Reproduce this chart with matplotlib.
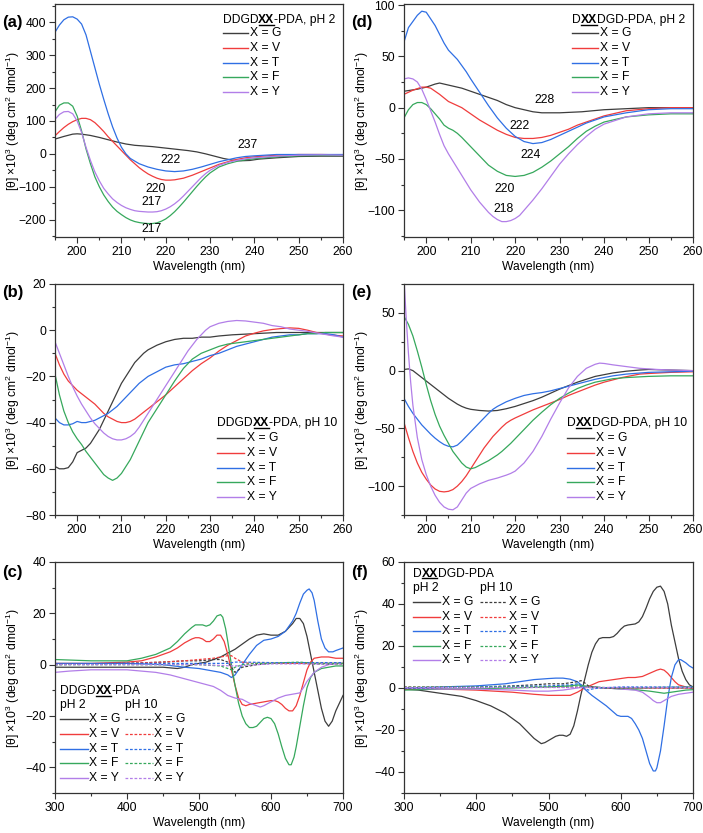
import numpy as np
import matplotlib
matplotlib.use("Agg")
import matplotlib.pyplot as plt
from matplotlib.ticker import MultipleLocator
from matplotlib.lines import Line2D

plt.rcParams['font.family'] = ['Liberation Sans', 'DejaVu Sans']
plt.rcParams['mathtext.fontset'] = 'custom'
plt.rcParams['mathtext.rm'] = 'Liberation Sans'
plt.rcParams['font.size'] = 8.7

LABELS = ['X = G', 'X = V', 'X = T', 'X = F', 'X = Y']
COLORS = ['#3d3d3d', '#f03c3c', '#2f6fe4', '#36a85c', '#b27ee8']

# ---- (a) DDGDXX-PDA, pH 2 ----
A_G = [(195, 45), (197, 53), (199, 60), (200, 61), (201, 60), (203, 56), (205, 50), (207, 43), (209, 36),
       (211, 30), (213, 26), (215, 24), (217, 22), (219, 19), (221, 16), (223, 13), (225, 10), (227, 6),
       (229, 0), (231, -7), (233, -14), (235, -19), (237, -21), (239, -20), (241, -16), (245, -12),
       (250, -8), (255, -7), (260, -7)]
A_V = [(195, 55), (196, 68), (197, 80), (198, 90), (199, 98), (200, 104), (201, 108), (202, 108), (203, 104),
       (204, 95), (205, 82), (206, 68), (207, 52), (208, 38), (209, 24), (210, 10), (211, -4), (212, -18),
       (213, -30), (214, -42), (215, -52), (216, -61), (217, -68), (218, -74), (219, -78), (220, -80),
       (221, -80), (222, -79), (224, -74), (226, -65), (228, -54), (230, -43), (232, -32), (234, -24),
       (236, -17), (238, -12), (240, -9), (245, -4), (250, -2), (255, -2), (260, -3)]
A_T = [(195, 370), (196, 392), (197, 408), (198, 416), (199, 417), (200, 410), (201, 395), (202, 362),
       (203, 312), (204, 262), (205, 212), (206, 166), (207, 122), (208, 82), (209, 48), (210, 20), (211, 0),
       (212, -14), (214, -30), (216, -40), (218, -47), (220, -52), (222, -54), (224, -52), (226, -47),
       (228, -40), (230, -32), (232, -24), (234, -18), (236, -12), (238, -8), (240, -6), (245, -2),
       (250, -2), (260, -2)]
A_F = [(195, 128), (196, 148), (197, 155), (198, 155), (199, 145), (200, 115), (201, 70), (202, 15),
       (203, -30), (204, -70), (205, -100), (206, -125), (207, -145), (208, -162), (209, -175), (210, -185),
       (211, -194), (212, -201), (213, -206), (214, -209), (215, -211), (216, -212), (217, -212),
       (218, -210), (219, -205), (220, -198), (221, -188), (222, -176), (223, -162), (224, -147),
       (225, -131), (226, -115), (227, -99), (228, -84), (229, -70), (230, -58), (232, -40), (234, -30),
       (236, -23), (238, -18), (240, -15), (245, -9), (250, -6), (255, -5), (260, -5)]
A_Y = [(195, 105), (196, 120), (197, 128), (198, 129), (199, 122), (200, 100), (201, 65), (202, 20),
       (203, -20), (204, -55), (205, -82), (206, -105), (207, -122), (208, -137), (209, -148), (210, -157),
       (211, -164), (212, -169), (213, -173), (214, -175), (215, -176), (216, -177), (217, -177),
       (218, -176), (219, -173), (220, -168), (221, -161), (222, -152), (223, -141), (224, -128),
       (225, -114), (226, -100), (227, -86), (228, -72), (229, -60), (230, -50), (232, -35), (234, -26),
       (236, -20), (238, -15), (240, -12), (245, -7), (250, -4), (255, -3), (260, -4)]
A_NOTES = [('222', 221, -18), ('220', 217.8, -107), ('217', 216.7, -145), ('217', 216.7, -229),
           ('237', 238.5, 27)]

# ---- (b) DDGDXX-PDA, pH 10 ----
B_G = [(195, -59), (196, -60), (197, -60), (198, -59.5), (199, -57), (200, -53), (201, -52), (202, -51),
       (203, -49), (204, -46), (205, -43), (206, -39), (207, -35), (208, -31), (209, -27), (210, -23),
       (211, -20), (212, -17), (213, -14), (214, -12), (215, -10), (216, -8.5), (217, -7.5), (218, -6.5),
       (220, -5), (222, -4), (224, -3.5), (226, -3.5), (228, -3), (230, -3), (232, -2.5), (235, -2),
       (240, -1.5), (245, -1), (250, -1), (255, -1), (260, -1)]
B_V = [(195, -10), (196, -15), (197, -19), (198, -22), (199, -24), (200, -26), (201, -27.5), (202, -29),
       (203, -30.5), (204, -32), (205, -34), (206, -36), (207, -37.5), (208, -38.5), (209, -39.5),
       (210, -40), (211, -40), (212, -39.5), (213, -38.5), (214, -37), (215, -35.5), (216, -34),
       (217, -32.5), (218, -31), (219, -29.5), (220, -28), (222, -24.5), (224, -21), (226, -17.5),
       (228, -14.5), (230, -12), (232, -9), (234, -6.5), (236, -4.5), (238, -2.5), (240, -1.3),
       (242, -0.3), (244, 0.3), (246, 0.7), (248, 1), (250, 0.8), (252, 0), (254, -1), (257, -2),
       (260, -2.5)]
B_T = [(195, -38), (196, -40), (197, -41), (198, -41), (199, -40.5), (200, -39.5), (201, -40), (202, -40),
       (203, -39.5), (204, -39), (205, -38), (206, -37), (207, -36), (208, -34.5), (209, -33), (210, -31),
       (211, -29), (212, -27), (213, -25), (214, -23), (215, -21.5), (216, -20), (217, -19), (218, -18),
       (219, -17), (220, -16), (222, -15), (224, -14.5), (226, -13.5), (228, -12.5), (230, -11),
       (232, -10), (234, -8.5), (236, -7), (238, -6), (240, -5), (242, -4), (244, -3), (246, -2.5),
       (248, -2), (250, -2), (252, -1.5), (256, -1.5), (258, -2), (260, -3)]
B_F = [(195, -19), (196, -28), (197, -35), (198, -40), (199, -44), (200, -47), (201, -49.5), (202, -52.5),
       (203, -55), (204, -57.5), (205, -60), (206, -62.5), (207, -64), (208, -65), (209, -64), (210, -62),
       (211, -59), (212, -56), (213, -52), (214, -48), (215, -44), (216, -40), (217, -37), (218, -34),
       (219, -31), (220, -28), (221, -25), (222, -22), (224, -16.5), (226, -12.5), (228, -10),
       (230, -8.5), (232, -7), (234, -6), (236, -5.5), (238, -5), (240, -4.5), (242, -4), (244, -3.5),
       (246, -3), (248, -2.5), (250, -2), (252, -1.5), (254, -1.5), (256, -1), (260, -1)]
B_Y = [(195, -5), (196, -10), (197, -15), (198, -20), (199, -24.5), (200, -28.5), (201, -32), (202, -35),
       (203, -38), (204, -40.5), (205, -42.5), (206, -44.5), (207, -46), (208, -47), (209, -47.5),
       (210, -47.5), (211, -47), (212, -46), (213, -44.5), (214, -42), (215, -39), (216, -36), (217, -33),
       (218, -30), (219, -27), (220, -24), (221, -21), (222, -18), (223, -15), (224, -12), (225, -9),
       (226, -6.5), (227, -4), (228, -2), (229, 0), (230, 1.5), (232, 3), (234, 3.8), (236, 4.2),
       (238, 4), (240, 3.5), (242, 3), (244, 2), (246, 1.5), (248, 0.5), (250, 0), (252, -0.5),
       (255, -1.5), (258, -2.5), (260, -3)]

# ---- (d) DXXDGD-PDA, pH 2 ----
D_G = [(195, 16), (198, 18), (200, 20), (202, 23), (203, 24), (204, 23), (206, 21), (208, 19), (210, 16),
       (212, 13), (214, 10), (216, 7), (218, 3), (220, 0), (222, -2), (224, -4), (226, -5), (228, -5),
       (230, -5), (235, -4), (240, -2), (245, -1), (250, 0), (260, 0)]
D_V = [(195, 13), (197, 17), (199, 20), (200, 20), (201, 19), (203, 13), (205, 6), (206, 4), (208, 0),
       (210, -6), (212, -12), (214, -17), (216, -22), (218, -26), (220, -29), (222, -30), (224, -30),
       (226, -29), (228, -27), (230, -24), (232, -21), (234, -17), (236, -14), (238, -11), (240, -8),
       (245, -3), (250, -1), (255, 0), (260, 0)]
D_T = [(195, 64), (196, 78), (197, 84), (198, 90), (199, 94), (200, 93), (202, 80), (204, 63), (205, 56),
       (207, 47), (209, 35), (210, 28), (212, 15), (214, 2), (216, -10), (218, -20), (220, -28),
       (222, -33), (224, -35), (226, -34), (228, -31), (230, -27), (232, -23), (234, -19), (236, -15),
       (238, -12), (240, -9), (245, -5), (250, -2), (255, -1), (260, -1)]
D_F = [(195, -10), (196, -2), (197, 3), (198, 5), (199, 5), (200, 3), (201, -1), (202, -6), (203, -11),
       (204, -17), (205, -20), (206, -22), (207, -25), (208, -29), (210, -38), (212, -47), (214, -56),
       (216, -62), (218, -66), (220, -67), (222, -66), (224, -63), (226, -58), (228, -52), (230, -45),
       (232, -38), (234, -30), (236, -23), (238, -18), (240, -14), (245, -9), (250, -7), (255, -6),
       (260, -6)]
D_Y = [(195, 28), (196, 29), (197, 28), (198, 25), (199, 18), (200, 8), (201, -3), (202, -14), (203, -26),
       (204, -37), (205, -45), (206, -52), (207, -59), (208, -66), (209, -73), (210, -80), (211, -86),
       (212, -92), (213, -97), (214, -102), (215, -106), (216, -109), (217, -111), (218, -111),
       (219, -110), (220, -108), (221, -105), (222, -100), (224, -90), (226, -79), (228, -67),
       (230, -55), (232, -45), (234, -36), (236, -28), (238, -21), (240, -16), (245, -9), (250, -6),
       (255, -5), (260, -5)]
D_NOTES = [('228', 226.7, 7.5), ('222', 220.9, -18), ('224', 223.5, -46), ('220', 217.6, -79),
           ('218', 217.3, -99)]

# ---- (e) DXXDGD-PDA, pH 10 ----
E_G = [(195, 1), (196, 1.5), (197, 0), (198, -3), (199, -6), (200, -9), (201, -12), (202, -15), (203, -18),
       (204, -21), (205, -24), (206, -26.5), (207, -29), (208, -31), (209, -32.5), (210, -33.5),
       (212, -34.5), (214, -35), (216, -34.5), (218, -33), (220, -31), (222, -28.5), (224, -26),
       (226, -23), (228, -19.5), (230, -16), (232, -13), (234, -10), (236, -7.5), (238, -5), (240, -3.5),
       (242, -2), (245, -0.5), (248, 0.5), (250, 1), (255, 0.5), (260, 0)]
E_V = [(195, -45), (196, -58), (197, -70), (198, -80), (199, -88), (200, -94), (201, -99), (202, -102.5),
       (203, -104.5), (204, -105), (205, -104.5), (206, -103), (207, -100), (208, -96), (209, -91),
       (210, -85), (211, -79), (212, -73), (213, -67), (214, -62), (215, -57), (216, -53), (217, -49),
       (218, -45.5), (219, -43), (220, -41), (222, -37.5), (224, -34), (226, -31), (228, -28), (230, -25),
       (232, -21.5), (234, -18.5), (236, -15.5), (238, -12.5), (240, -10), (242, -8), (244, -6),
       (246, -4.5), (248, -3), (250, -2.5), (255, -1.5), (260, -1)]
E_T = [(195, -24), (196, -31), (197, -37), (198, -42), (199, -47), (200, -51), (201, -55), (202, -58.5),
       (203, -61.5), (204, -64), (205, -65.5), (206, -66), (207, -64.5), (208, -61), (209, -57),
       (210, -53), (211, -49), (212, -45), (213, -41), (214, -37), (215, -33.5), (216, -31), (217, -29),
       (218, -27), (219, -25.5), (220, -24), (222, -21.5), (224, -20), (226, -19), (228, -17.5),
       (230, -15.5), (232, -13.5), (234, -11.5), (236, -9.5), (238, -7.5), (240, -6), (242, -4.5),
       (245, -3), (250, -1.5), (255, -1), (260, -0.5)]
E_F = [(195, 47), (196, 40), (197, 30), (198, 17), (199, 3), (200, -12), (201, -26), (202, -38), (203, -48),
       (204, -56), (205, -63), (206, -70), (207, -75), (208, -80), (209, -83.5), (210, -85), (211, -84),
       (212, -82), (213, -80), (214, -78), (215, -75.5), (216, -73), (217, -70), (218, -66.5), (219, -63),
       (220, -59), (222, -51), (224, -43), (226, -36), (228, -29.5), (230, -24), (232, -19.5),
       (234, -15.5), (236, -12.5), (238, -10), (240, -8.5), (242, -7), (245, -6), (250, -5), (255, -4.5),
       (260, -4.5)]
E_Y = [(195, 80), (195.5, 45), (196, 15), (196.5, -10), (197, -30), (198, -58), (199, -77), (200, -90),
       (201, -100), (202, -108), (203, -114), (204, -118), (205, -120), (206, -120.5), (207, -118),
       (208, -112), (209, -106), (210, -102), (211, -100), (212, -98), (213, -96.5), (214, -95),
       (216, -93), (218, -90.5), (219, -89), (220, -87), (222, -80), (224, -70), (226, -57), (228, -42),
       (230, -28), (232, -15), (234, -5), (236, 2), (238, 5.5), (239, 6.5), (240, 6.2), (242, 5),
       (244, 4), (246, 3), (248, 2), (250, 1.5), (252, 1), (255, 0.5), (260, 0)]

# ---- (c) DDGDXX-PDA, visible range, pH 2 (solid) ----
C_G = [(300, -1), (350, -1), (400, -1), (450, -1), (470, -1.5), (480, -1), (490, 0), (500, 0.5), (510, 1),
       (520, 2), (530, 3), (540, 4.5), (550, 6), (560, 8), (570, 10), (580, 11.5), (590, 12), (600, 11.5),
       (610, 11.5), (620, 13), (630, 16), (635, 18), (640, 18), (645, 16), (650, 11), (655, 4), (660, -3),
       (665, -10), (670, -17), (675, -22), (680, -24), (685, -22), (690, -18), (695, -15), (700, -12)]
C_V = [(300, 0.5), (350, 0.5), (400, 1), (420, 1.5), (440, 3), (460, 5), (470, 6.5), (480, 8.5), (490, 10),
       (495, 10.5), (500, 10.5), (505, 10), (510, 9), (515, 9), (520, 10), (525, 11.5), (530, 11.5),
       (535, 9), (540, 4), (545, -2), (550, -8), (555, -13), (560, -15.5), (565, -16), (570, -15.5),
       (580, -15), (590, -14.5), (600, -14), (605, -14), (610, -14.5), (615, -15.5), (620, -17),
       (625, -18), (630, -18), (635, -16), (640, -12), (645, -7), (650, -2), (655, 1), (660, 2.5),
       (670, 3), (680, 3), (690, 2.5), (700, 2.5)]
C_T = [(300, 0.5), (350, 0.5), (400, 0.5), (450, 0), (480, -1), (500, -1.5), (510, -2), (520, -2.5),
       (530, -3), (540, -4), (545, -5), (550, -4), (555, -2), (560, 0), (570, 4), (580, 7.5), (590, 9.5),
       (600, 10), (610, 11), (620, 13), (630, 17), (635, 20), (640, 24), (645, 27.5), (650, 29),
       (653, 29.5), (657, 28), (660, 25), (665, 17), (670, 10), (675, 6.5), (680, 5), (686, 5),
       (690, 5.5), (700, 6.5)]
C_F = [(300, 2), (350, 1.5), (400, 1.5), (420, 2.5), (440, 4), (460, 6.5), (470, 9), (480, 12), (490, 14.5),
       (495, 15.5), (500, 15.5), (505, 15.5), (510, 15), (515, 15.5), (520, 17), (525, 19), (530, 19.5),
       (533, 18.5), (537, 14), (540, 9), (545, 0), (550, -8), (555, -15), (560, -20), (565, -23),
       (570, -24.5), (575, -24.5), (580, -24), (585, -22.5), (590, -21), (595, -20.5), (600, -21),
       (605, -23), (610, -27), (615, -32), (620, -36.5), (625, -39), (628, -39), (632, -36), (635, -32),
       (640, -24), (645, -16), (650, -9), (655, -5), (660, -3), (670, -1.5), (680, -1), (690, -0.5),
       (700, -0.5)]
C_Y = [(300, -3), (320, -2.5), (350, -2), (400, -2), (420, -2.5), (440, -3), (460, -4), (480, -5.5),
       (500, -7), (520, -8.5), (530, -10), (540, -12), (550, -13), (560, -13.5), (570, -15), (580, -16),
       (585, -16.5), (590, -16), (600, -14.5), (610, -13), (620, -12), (630, -11.5), (640, -11),
       (645, -9), (650, -6.5), (660, -3), (670, -1), (680, 0), (690, 0.5), (700, 0.5)]
# pH 10 (dashed)
C_G10 = [(300, 0), (400, 0.5), (450, 1), (480, 1.5), (500, 1.5), (520, 2), (530, 2), (540, 1), (545, -1),
         (550, -3), (555, -2), (560, -1), (570, -0.5), (580, 0), (600, 0.5), (640, 0.5), (660, 0.3),
         (700, 0.3)]
C_V10 = [(300, 0.3), (400, 0.5), (450, 1), (480, 1.5), (500, 2), (520, 2.5), (530, 3), (540, 3.5),
         (545, 3.5), (550, 2.5), (560, 1), (570, 0.5), (600, 0.5), (650, 0.5), (700, 0.5)]
C_T10 = [(300, 0.3), (400, 0.5), (500, 0.5), (540, 0.5), (550, 1), (560, 1), (600, 0.8), (650, 0.8),
         (700, 0.8)]
C_F10 = [(300, 0), (400, 0), (500, 0), (530, -0.5), (540, -1.5), (545, -2), (550, -1), (560, 0), (580, 0.5),
         (600, 0.5), (620, 0.8), (640, 1), (660, 0.5), (700, 0.5)]
C_Y10 = [(300, 0), (400, 0), (500, 0), (550, -0.5), (600, 0.3), (650, 0.3), (700, 0.3)]

# ---- (f) DXXDGD-PDA, visible range, pH 2 (solid) ----
F_G = [(300, -0.5), (320, -1), (350, -2.5), (380, -4), (400, -6), (420, -8.5), (440, -12), (460, -17),
       (470, -20.5), (480, -24), (490, -26.5), (495, -26), (500, -25), (510, -23), (515, -22.5),
       (520, -22.5), (525, -23), (530, -22), (535, -18), (540, -11), (545, -3), (550, 4), (555, 11),
       (560, 17), (565, 21), (570, 23.5), (575, 24), (585, 24), (590, 24.5), (595, 26), (600, 28),
       (605, 29.5), (610, 30), (620, 30.5), (625, 31.5), (630, 34), (635, 38), (640, 42.5), (645, 46),
       (650, 48), (655, 48.5), (660, 46), (665, 40), (670, 30), (675, 22), (680, 14), (685, 8), (690, 4),
       (695, 1.5), (700, 0.5)]
F_V = [(300, -0.5), (350, -0.5), (400, -1), (450, -2), (480, -3), (500, -3.5), (530, -3.5), (540, -2),
       (550, 0), (560, 1.5), (570, 3), (580, 3.5), (590, 4), (600, 4.5), (610, 5), (620, 5), (630, 5.5),
       (640, 7), (650, 8.5), (655, 9), (660, 8.5), (665, 7), (670, 5), (675, 3), (680, 1.5), (690, 0.5),
       (700, 0)]
F_T = [(300, 0), (350, 0.5), (400, 1), (420, 1.5), (440, 2), (460, 3), (480, 4), (500, 4.5), (510, 4.7),
       (520, 4.7), (530, 4.2), (540, 3), (545, 1.5), (550, -0.5), (555, -2), (560, -3.5), (570, -6),
       (580, -8.5), (590, -11.5), (595, -13), (600, -13.5), (610, -13.5), (615, -14.5), (620, -17),
       (625, -20), (630, -24), (635, -30), (640, -36), (645, -39.5), (648, -39.5), (650, -38), (655, -30),
       (660, -18), (665, -5), (670, 5), (675, 11), (680, 13.5), (683, 13.5), (690, 12), (695, 10.5),
       (700, 9.5)]
F_F = [(300, -1), (350, -0.5), (400, -0.3), (450, 0), (500, 0.5), (530, 1), (540, 1.5), (550, 1), (560, 0.5),
       (580, 0), (600, -0.5), (620, -0.8), (640, -1.5), (650, -2), (660, -2.5), (670, -2), (680, -1.5),
       (690, -1), (700, -0.8)]
F_Y = [(300, 0), (350, -0.5), (400, -0.5), (450, -1), (480, -1.5), (500, -1.5), (520, -1), (540, 0),
       (550, 0.5), (560, 0.5), (580, 0), (600, -0.5), (620, -1), (630, -2), (640, -4.5), (645, -6),
       (650, -7), (655, -7), (660, -6), (670, -4), (680, -3), (690, -2.5), (700, -2)]
# pH 10 (dashed)
F_G10 = [(300, 0), (400, 0.5), (450, 1), (480, 1.5), (500, 2), (520, 2), (530, 2.5), (540, 3), (545, 3.5),
         (550, 2.5), (555, 1), (560, 0.5), (580, 0), (700, 0)]
F_V10 = [(300, 0.5), (400, 0.3), (500, 0.3), (550, 0.3), (600, 0), (700, 0)]
F_T10 = [(300, 0), (400, 0.5), (500, 1), (530, 1.5), (540, 2), (545, 1.5), (550, 0), (555, -1), (560, -0.5),
         (570, 0), (600, 0.5), (700, 0.5)]
F_F10 = [(300, 0.5), (400, 0.5), (500, 0.5), (540, 1), (550, 0.5), (600, 0), (700, 0.5)]
F_Y10 = [(300, 0.5), (400, 0.5), (500, 0.5), (550, 0.5), (600, 0.5), (700, 0.5)]

DASH = (0, (2.2, 1.4))
YLABEL = r'[θ] ×10$^3$ (deg cm$^2$ dmol$^{-1}$)'

fig = plt.figure(figsize=(7.03, 8.33), dpi=100)
W, H = 703, 833


def make_ax(px_left, px_top, px_w=288, px_h=232):
    return fig.add_axes([px_left / W, 1 - (px_top + px_h) / H, px_w / W, px_h / H])


def style(ax, xlim, ylim, xmaj, xmin, ymaj, ymin):
    ax.set_xlim(*xlim)
    ax.set_ylim(*ylim)
    ax.xaxis.set_major_locator(MultipleLocator(xmaj))
    ax.xaxis.set_minor_locator(MultipleLocator(xmin))
    ax.yaxis.set_major_locator(MultipleLocator(ymaj))
    ax.yaxis.set_minor_locator(MultipleLocator(ymin))
    ax.tick_params(which='major', direction='out', length=4, width=0.8, color='#333333', pad=2.5)
    ax.tick_params(which='minor', direction='out', length=2.2, width=0.8, color='#333333')
    for s in ax.spines.values():
        s.set_linewidth(0.9)
        s.set_color('#333333')
    ax.set_xlabel('Wavelength (nm)')
    ax.set_ylabel(YLABEL)
    ax.xaxis.set_label_coords(0.5, -0.105)
    ax.yaxis.set_label_coords(-0.115, 0.5)


def draw(ax, curves, ls='-', lw=0.9):
    for pts, c in zip(curves, COLORS):
        x, y = np.array(pts, dtype=float).T
        ax.plot(x, y, color=c, lw=lw, ls=ls)


underlines = []


def rich_title(ax, x, y, before, after):
    t0 = ax.text(x, y, before, transform=ax.transAxes, va='center', ha='left')
    t1 = ax.annotate('XX', xy=(1, 0), xycoords=t0, va='bottom', ha='left', fontweight='bold')
    ax.annotate(after, xy=(1, 0), xycoords=t1, va='bottom', ha='left')
    underlines.append(t1)


def legend_rows(ax, x0, x1, xt, rows, ls='-', lw=1.0):
    for yy, c, lab in zip(rows, COLORS, LABELS):
        ax.plot([x0, x1], [yy, yy], transform=ax.transAxes, color=c, lw=lw, ls=ls, clip_on=False)
        ax.text(xt, yy, lab, transform=ax.transAxes, va='center', ha='left')


# (a)
ax = make_ax(55, 4, px_h=233)
draw(ax, [A_G, A_V, A_T, A_F, A_Y])
style(ax, (195, 260), (-253, 456), 10, 5, 100, 50)
for s, x, y in A_NOTES:
    ax.text(x, y, s, ha='center', va='center')
rich_title(ax, 0.582, 0.931, 'DDGD', '-PDA, pH 2')
legend_rows(ax, 0.582, 0.671, 0.677, [0.874, 0.81, 0.746, 0.686, 0.621])

# (d)
ax = make_ax(404, 4, px_w=289, px_h=233)
draw(ax, [D_G, D_V, D_T, D_F, D_Y])
style(ax, (195, 260), (-126, 101), 10, 5, 50, 25)
for s, x, y in D_NOTES:
    ax.text(x, y, s, ha='center', va='center')
rich_title(ax, 0.582, 0.931, 'D', 'DGD-PDA, pH 2')
legend_rows(ax, 0.582, 0.671, 0.677, [0.874, 0.81, 0.746, 0.686, 0.621])

# (b)
ax = make_ax(55, 284, px_h=231)
draw(ax, [B_G, B_V, B_T, B_F, B_Y])
style(ax, (195, 260), (-80, 20), 10, 5, 20, 10)
rich_title(ax, 0.564, 0.397, 'DDGD', '-PDA, pH 10')
legend_rows(ax, 0.564, 0.657, 0.666, [0.335, 0.270, 0.205, 0.143, 0.078])

# (e)
ax = make_ax(404, 284, px_w=289, px_h=231)
draw(ax, [E_G, E_V, E_T, E_F, E_Y])
style(ax, (195, 260), (-125, 75), 10, 5, 50, 25)
rich_title(ax, 0.564, 0.397, 'D', 'DGD-PDA, pH 10')
legend_rows(ax, 0.564, 0.657, 0.666, [0.335, 0.270, 0.205, 0.143, 0.078])

# (c)
ax = make_ax(55, 562, px_h=231)
draw(ax, [C_G, C_V, C_T, C_F, C_Y])
draw(ax, [C_G10, C_V10, C_T10, C_F10, C_Y10], ls=DASH, lw=0.9)
style(ax, (300, 700), (-50, 40), 100, 50, 20, 10)
rich_title(ax, 0.017, 0.44, 'DDGD', '-PDA')
ax.text(0.017, 0.379, 'pH 2', transform=ax.transAxes, va='center')
ax.text(0.244, 0.379, 'pH 10', transform=ax.transAxes, va='center')
rows_c = [0.319, 0.256, 0.192, 0.128, 0.065]
legend_rows(ax, 0.017, 0.113, 0.118, rows_c)
legend_rows(ax, 0.244, 0.339, 0.345, rows_c, ls=DASH, lw=0.9)

# (f)
ax = make_ax(404, 562, px_w=289, px_h=231)
draw(ax, [F_G, F_V, F_T, F_F, F_Y])
draw(ax, [F_G10, F_V10, F_T10, F_F10, F_Y10], ls=DASH, lw=0.9)
style(ax, (300, 700), (-50, 60), 100, 50, 20, 10)
rich_title(ax, 0.031, 0.95, 'D', 'DGD-PDA')
ax.text(0.031, 0.887, 'pH 2', transform=ax.transAxes, va='center')
ax.text(0.263, 0.887, 'pH 10', transform=ax.transAxes, va='center')
rows_f = [0.825, 0.764, 0.702, 0.637, 0.576]
legend_rows(ax, 0.031, 0.124, 0.130, rows_f)
legend_rows(ax, 0.263, 0.356, 0.362, rows_f, ls=DASH, lw=0.9)

# panel letters
for lab, px, py in [('(a)', 2, 22), ('(b)', 2, 293), ('(c)', 2, 572),
                    ('(d)', 351, 22), ('(e)', 351, 293), ('(f)', 351, 572)]:
    fig.text(px / W, 1 - py / H, lab, fontsize=12, fontweight='bold', va='center', ha='left')

# underline the bold XX in the legend titles
fig.canvas.draw()
rend = fig.canvas.get_renderer()
inv = fig.transFigure.inverted()
for t in underlines:
    bb = t.get_window_extent(rend)
    (x0, y0), (x1, _) = inv.transform([(bb.x0 + 0.5, bb.y0 + 1.3), (bb.x1 - 0.5, bb.y0 + 1.3)])
    fig.add_artist(Line2D([x0, x1], [y0, y0], color='black', lw=1.0))

fig.savefig('out.png', dpi=100)
